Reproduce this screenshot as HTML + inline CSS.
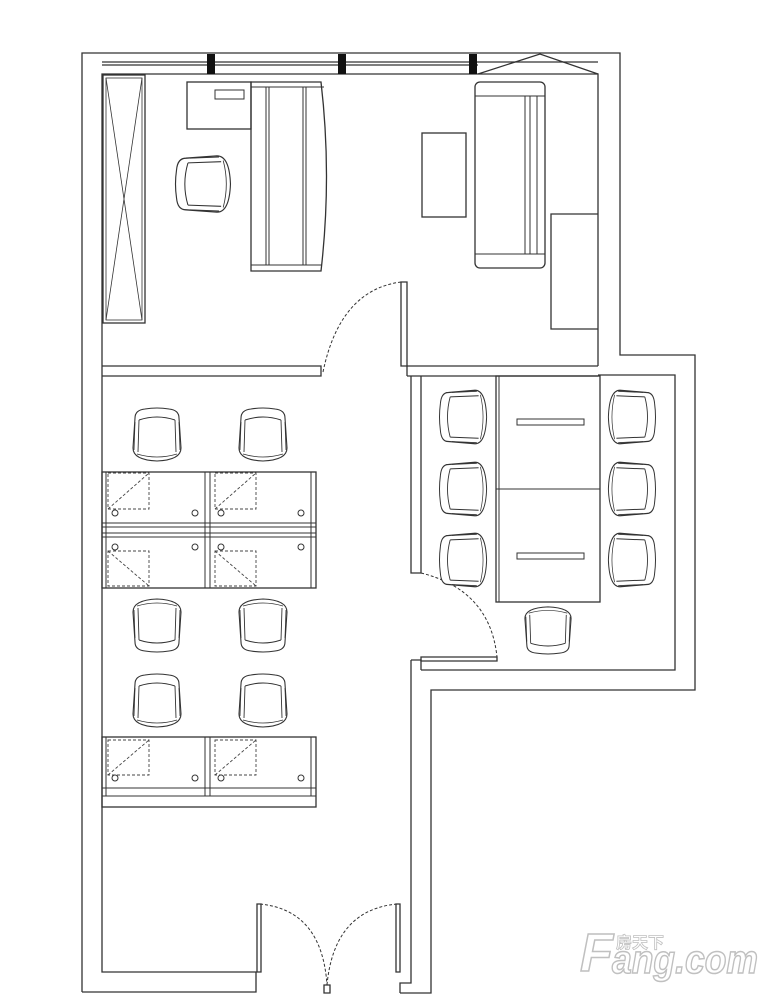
<!DOCTYPE html>
<html><head><meta charset="utf-8"><style>
html,body{margin:0;padding:0;background:#fff;}
svg{display:block;}
</style></head><body>
<svg width="776" height="1000" viewBox="0 0 776 1000" xmlns="http://www.w3.org/2000/svg">
<defs>
<symbol id="ch" viewBox="0 0 52 54" preserveAspectRatio="none" overflow="visible">
<path d="M4,10 Q4,2 14,1 Q26,-1 38,1 Q48,2 48,10 L50,40 Q50,52 26,53 Q2,52 2,40 Z" fill="#fff" stroke="#333" stroke-width="1.1"/>
<path d="M8,12 Q26,6 44,12" fill="none" stroke="#333" stroke-width="1"/>
<path d="M8,12 L7,44 M44,12 L45,44" fill="none" stroke="#333" stroke-width="0.9"/>
<path d="M4,14 L3,42 M48,14 L49,42" fill="none" stroke="#333" stroke-width="0.8"/>
<path d="M6,46 Q26,52 46,46" fill="none" stroke="#333" stroke-width="0.8"/>
</symbol>
</defs>
<g fill="none" stroke="#333" stroke-width="1.3">
<path d="M82,992 L82,53 L620,53 L620,355 L695,355 L695,690 L431,690 L431,993 L400,993"/>
<path d="M82,992 L256,992 L256,972 L102,972 L102,74 L598,74 L598,366"/>
<path d="M102,62 L598,62 M102,65 L478,65"/>
<path d="M478,74 L540,54 L598,74"/>
<path d="M411,660 L411,983 L400,983 L400,993"/>
<path d="M421,670 L675,670 L675,375 L598,375"/>
<path d="M411,660 L421,660 L421,670"/>
<path d="M102,366 L321,366 L321,376 L102,376"/>
<path d="M407,366 L598,366 M407,376 L598,376 M407,366 L407,376"/>
<path d="M411,376 L411,573 L421,573 L421,376"/>
<path d="M401,282 L401,366 L407,366 L407,282 Z"/>
<path d="M401,282 Q340,290 323,372" stroke-dasharray="3,2" stroke-width="1"/>
<path d="M421,657 L497,657 L497,661 L421,661 Z"/>
<path d="M421,573 Q490,590 497,657" stroke-dasharray="3,2" stroke-width="1"/>
<path d="M257,904 L261,904 L261,972 L257,972 Z M396,904 L400,904 L400,972 L396,972 Z"/>
<path d="M260,904 Q322,910 327,985 M397,904 Q334,910 327,985" stroke-dasharray="3,2" stroke-width="1"/>
<path d="M324,985 L330,985 L330,993 L324,993 Z"/>
<rect x="103" y="75" width="42" height="248"/>
<rect x="106" y="78" width="36" height="242" stroke-width="0.8"/>
<path d="M106,78 L142,320 M142,78 L106,320" stroke-width="0.8"/>
<rect x="187" y="82" width="64" height="47"/>
<rect x="215" y="90" width="29" height="9" stroke-width="1"/>
<path d="M251,82 L321,82 Q332,176 321,271 L251,271 Z"/>
<path d="M251,87 L324,87 M251,265 L322,265 M266,87 L266,265 M269,87 L269,265 M303,87 L303,265 M306,87 L306,265" stroke-width="1"/>
<rect x="422" y="133" width="44" height="84"/>
<rect x="475" y="82" width="70" height="186" rx="5"/>
<path d="M475,96 L545,96 M475,254 L545,254 M525,96 L525,254 M530,96 L530,254 M537,96 L537,254" stroke-width="1"/>
<path d="M598,214 L551,214 L551,329 L598,329"/>
<rect x="496" y="376" width="104" height="226"/>
<path d="M499,376 L499,602 M496,489 L600,489" stroke-width="1"/>
<rect x="517" y="419" width="67" height="6" stroke-width="1"/>
<rect x="517" y="553" width="67" height="6" stroke-width="1"/>
<rect x="102" y="472" width="214" height="116"/>
<path d="M106,472 L106,588 M311,472 L311,588 M205,472 L205,588 M210,472 L210,588 M102,523 L316,523 M102,527 L316,527 M102,533 L316,533 M102,537 L316,537" stroke-width="1"/>
<rect x="102" y="737" width="214" height="70"/>
<path d="M106,737 L106,796 M311,737 L311,796 M205,737 L205,796 M210,737 L210,796 M102,788 L316,788 M102,796 L316,796" stroke-width="1"/>
</g>
<g fill="none" stroke="#444" stroke-width="0.9" stroke-dasharray="3,2">
<rect x="108" y="473" width="41" height="36"/><path d="M108,509 L149,473"/>
<rect x="215" y="473" width="41" height="36"/><path d="M215,509 L256,473"/>
<rect x="108" y="551" width="41" height="35"/><path d="M108,551 L149,586"/>
<rect x="215" y="551" width="41" height="35"/><path d="M215,551 L256,586"/>
<rect x="108" y="740" width="41" height="35"/><path d="M108,775 L149,740"/>
<rect x="215" y="740" width="41" height="35"/><path d="M215,775 L256,740"/>
</g>
<g fill="none" stroke="#333" stroke-width="1">
<circle cx="115" cy="513" r="3"/><circle cx="195" cy="513" r="3"/><circle cx="221" cy="513" r="3"/><circle cx="301" cy="513" r="3"/>
<circle cx="115" cy="547" r="3"/><circle cx="195" cy="547" r="3"/><circle cx="221" cy="547" r="3"/><circle cx="301" cy="547" r="3"/>
<circle cx="115" cy="778" r="3"/><circle cx="195" cy="778" r="3"/><circle cx="221" cy="778" r="3"/><circle cx="301" cy="778" r="3"/>
</g>
<use href="#ch" x="131" y="408" width="52" height="54"/>
<use href="#ch" x="237" y="408" width="52" height="54"/>
<use href="#ch" x="131" y="598" width="52" height="54" transform="rotate(180 157 625)"/>
<use href="#ch" x="237" y="598" width="52" height="54" transform="rotate(180 263 625)"/>
<use href="#ch" x="131" y="674" width="52" height="54"/>
<use href="#ch" x="237" y="674" width="52" height="54"/>
<use href="#ch" x="173" y="156" width="61" height="56" transform="rotate(-90 203.5 184)"/>
<use href="#ch" x="434.5" y="393" width="58" height="48" transform="rotate(-90 463.5 417)"/>
<use href="#ch" x="434.5" y="465" width="58" height="48" transform="rotate(-90 463.5 489)"/>
<use href="#ch" x="434.5" y="536" width="58" height="48" transform="rotate(-90 463.5 560)"/>
<use href="#ch" x="602.5" y="393" width="58" height="48" transform="rotate(90 631.5 417)"/>
<use href="#ch" x="602.5" y="465" width="58" height="48" transform="rotate(90 631.5 489)"/>
<use href="#ch" x="602.5" y="536" width="58" height="48" transform="rotate(90 631.5 560)"/>
<use href="#ch" x="523" y="606" width="50" height="48" transform="rotate(180 548 630)"/>
<g fill="#111">
<rect x="207" y="54" width="8" height="20"/>
<rect x="338" y="54" width="8" height="20"/>
<rect x="469" y="54" width="8" height="20"/>
</g>
<g font-family="Liberation Sans, sans-serif" font-weight="bold" fill="#fff" stroke="#c0c0c0" stroke-width="1.5">
<text x="580" y="971" font-size="54" font-style="italic">F</text>
<text x="612" y="973" font-size="40" font-style="italic" textLength="146" lengthAdjust="spacingAndGlyphs">ang.com</text>
<text x="616" y="948" font-size="16" font-family="Noto Sans CJK SC, sans-serif" stroke-width="0.8">房天下</text>
</g>
</svg>
</body></html>
